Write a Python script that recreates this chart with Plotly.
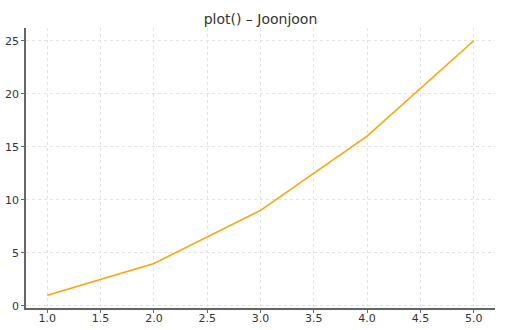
import plotly.graph_objects as go

x_vals = [1, 2, 3, 4, 5]
y_vals = [1, 4, 9, 16, 25]
x_ticks = [1.0, 1.5, 2.0, 2.5, 3.0, 3.5, 4.0, 4.5, 5.0]
x_tick_labels = ["1.0", "1.5", "2.0", "2.5", "3.0", "3.5", "4.0", "4.5", "5.0"]
y_ticks = [0, 5, 10, 15, 20, 25]
title_text = "plot() – Joonjoon"

fig = go.Figure()
fig.add_trace(go.Scatter(x=x_vals, y=y_vals, mode="lines",
                         line=dict(color="#FFA500", width=1.5), showlegend=False))

axis_common = dict(
    showline=True, linecolor="#666666", linewidth=1.5,
    ticks="outside", ticklen=3, tickwidth=1, tickcolor="#666666",
    showgrid=True, gridcolor="#e3e3e3", gridwidth=0.7, griddash="dot",
    zeroline=False, tickfont=dict(family="DejaVu Sans", size=11, color="#333333"),
    mirror=False, automargin=False,
)

fig.update_layout(
    width=522, height=330,
    margin=dict(l=26, r=27, t=28, b=22),
    paper_bgcolor="white", plot_bgcolor="white",
    title=dict(text=title_text, x=0.499, xanchor="center", y=0.942, yanchor="middle",
               font=dict(family="DejaVu Sans", size=14, color="#333333")),
    xaxis=dict(range=[0.8, 5.2], tickvals=x_ticks, ticktext=x_tick_labels,
               ticklabelstandoff=-4, **axis_common),
    yaxis=dict(range=[-0.2, 26.2], tickvals=y_ticks, **axis_common),
)

fig.write_html("out.html")
